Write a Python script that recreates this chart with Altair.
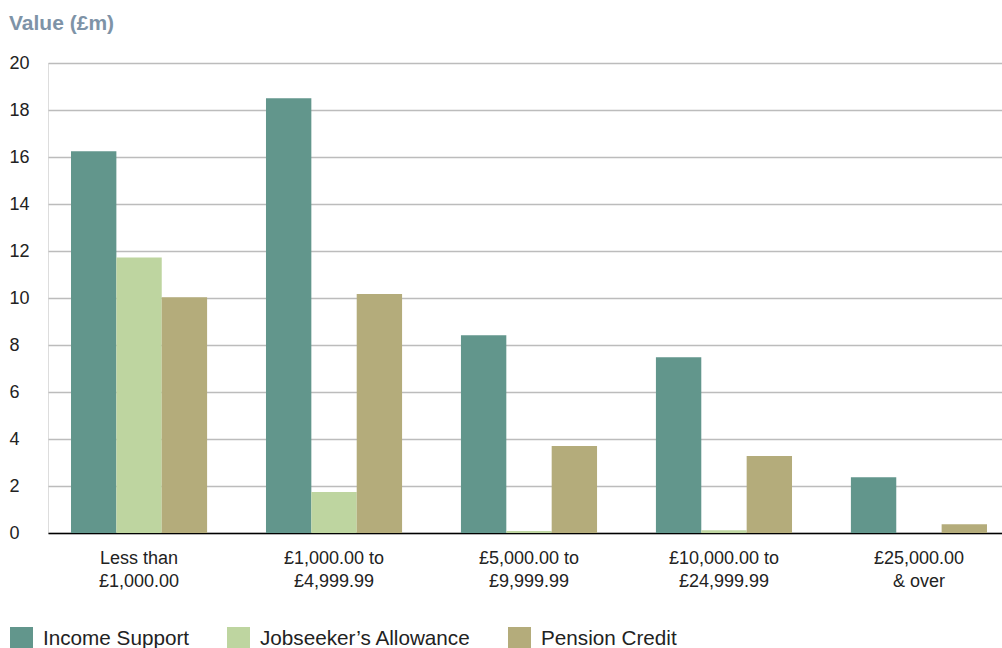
import altair as alt
import pandas as pd

categories = [
    "Less than\n£1,000.00",
    "£1,000.00 to\n£4,999.99",
    "£5,000.00 to\n£9,999.99",
    "£10,000.00 to\n£24,999.99",
    "£25,000.00\n& over",
]
series = ["Income Support", "Jobseeker’s Allowance", "Pension Credit"]
income_support = [16.25, 18.5, 8.42, 7.48, 2.37]
jobseekers = [11.72, 1.74, 0.08, 0.12, 0.0]
pension_credit = [10.03, 10.17, 3.7, 3.28, 0.37]
colors = ["#62968c", "#bed5a0", "#b4ac7b"]
y_ticks = [0, 2, 4, 6, 8, 10, 12, 14, 16, 18, 20]

rows = []
for s, vals in zip(series, [income_support, jobseekers, pension_credit]):
    for c, v in zip(categories, vals):
        rows.append({"band": c, "series": s, "value": v})
df = pd.DataFrame(rows)

chart = (
    alt.Chart(df)
    .mark_bar()
    .encode(
        x=alt.X(
            "band:N",
            sort=categories,
            title=None,
            scale=alt.Scale(range=[0, 962], paddingInner=0.302, paddingOuter=0.118),
            axis=alt.Axis(
                labelExpr="split(datum.label, '\\n')",
                labelAngle=0,
                labelFontSize=18,
                labelFont="Liberation Sans",
                labelColor="#222222",
                labelLineHeight=23,
                labelPadding=16,
                ticks=False,
                tickSize=0,
                domainColor="#000000",
                domainWidth=1.5,
                grid=False,
            ),
        ),
        xOffset=alt.XOffset(
            "series:N", sort=series, scale=alt.Scale(paddingInner=0, paddingOuter=0)
        ),
        y=alt.Y(
            "value:Q",
            title=None,
            scale=alt.Scale(domain=[0, 20], nice=False),
            axis=alt.Axis(
                values=y_ticks,
                labelAlign="left",
                labelBaseline="middle",
                labelPadding=39,
                labelFontSize=18,
                labelFont="Liberation Sans",
                labelColor="#222222",
                ticks=False,
                tickSize=0,
                domain=False,
                gridColor="#bcbcbc",
                gridWidth=1.3,
            ),
        ),
        color=alt.Color(
            "series:N",
            sort=series,
            scale=alt.Scale(domain=series, range=colors),
            legend=alt.Legend(
                title=None,
                orient="none",
                direction="horizontal",
                legendX=-38,
                legendY=564,
                symbolType="square",
                symbolSize=529,
                symbolStrokeWidth=0,
                symbolOpacity=1,
                labelFontSize=20.7,
                labelFont="Liberation Sans",
                labelColor="#222222",
                labelOffset=10,
                columnPadding=37,
                padding=0,
                labelLimit=400,
            ),
        ),
    )
    .properties(
        width=954,
        height=470,
        title=alt.TitleParams(
            "Value (£m)",
            anchor="start",
            font="Liberation Sans",
            fontSize=21,
            fontWeight="bold",
            color="#7e93a7",
            dx=-39,
            offset=20,
            frame="group",
        ),
        autosize=alt.AutoSizeParams(type="none"),
        padding={"left": 48, "top": 63, "right": 0, "bottom": 115},
    )
    .configure_view(stroke=None)
    .configure(background="white")
)

chart.save("out.html", embed_options={"renderer": "svg", "actions": False})
